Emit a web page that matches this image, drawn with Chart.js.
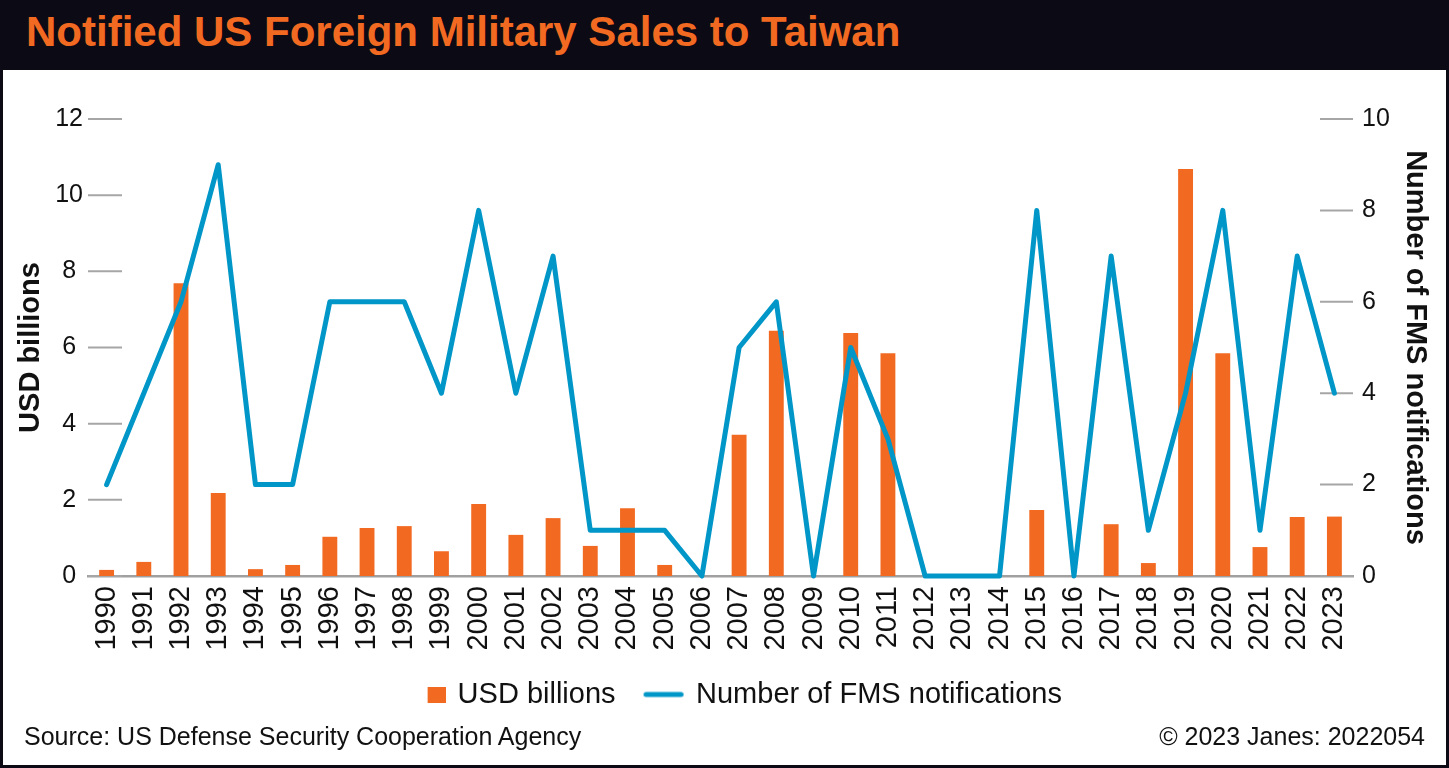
<!DOCTYPE html>
<html>
<head>
<meta charset="utf-8">
<script src="https://cdn.jsdelivr.net/npm/chart.js@4.4.1/dist/chart.umd.min.js"></script>
<style>
  html, body { margin: 0; padding: 0; background: #ffffff; }
  #frame {
    position: absolute; left: 0; top: 0; width: 1449px; height: 768px;
    background: #ffffff; overflow: hidden;
    font-family: "Liberation Sans", Arial, sans-serif;
  }
  #border {
    position: absolute; left: 0; top: 0; width: 1449px; height: 768px;
    box-sizing: border-box; border: 3px solid #0c0a14; border-top: none;
    pointer-events: none;
  }
  #head {
    position: absolute; left: 0; top: 0; width: 1449px; height: 70px;
    background: #0c0a14;
  }
  #title {
    position: absolute; left: 26px; top: 11px; margin: 0;
    font-size: 42px; line-height: 42px; font-weight: bold; color: #f26a22;
    white-space: nowrap;
  }
  #chart { position: absolute; left: 0; top: 70px; }
  .foot {
    position: absolute; top: 724px; font-size: 25px; line-height: 25px;
    color: #111111; white-space: nowrap;
  }
  #source { left: 24px; }
  #credit { right: 24px; }
</style>
</head>
<body>
<div id="frame">
  <div id="head"><h1 id="title">Notified US Foreign Military Sales to Taiwan</h1></div>
  <canvas id="chart" width="1449" height="653"></canvas>
  <div class="foot" id="source">Source: US Defense Security Cooperation Agency</div>
  <div class="foot" id="credit">© 2023 Janes: 2022054</div>
  <div id="border"></div>
</div>
<script>
// Chart data
const years = ['1990', '1991', '1992', '1993', '1994', '1995', '1996', '1997', '1998', '1999',
  '2000', '2001', '2002', '2003', '2004', '2005', '2006', '2007', '2008', '2009',
  '2010', '2011', '2012', '2013', '2014', '2015', '2016', '2017', '2018', '2019',
  '2020', '2021', '2022', '2023'];
const usdBillions = [0.16, 0.37, 7.69, 2.18, 0.18, 0.29, 1.03, 1.26, 1.31, 0.65,
  1.89, 1.08, 1.52, 0.79, 1.78, 0.29, 0, 3.71, 6.44, 0,
  6.38, 5.85, 0, 0, 0, 1.73, 0, 1.36, 0.34, 10.69,
  5.85, 0.76, 1.55, 1.56];
const fmsNotifications = [2, 4, 6, 9, 2, 2, 6, 6, 6, 4,
  8, 4, 7, 1, 1, 1, 0, 5, 6, 0,
  5, 3, 0, 0, 0, 8, 0, 7, 1, 4,
  8, 1, 7, 4];
const leftTicks = [0, 2, 4, 6, 8, 10, 12];
const rightTicks = [0, 2, 4, 6, 8, 10];

const ORANGE = '#f26a22';
const BLUE = '#0097c8';
const FONT = '"Liberation Sans", Arial, sans-serif';

// Legend symbols
function legendSymbol(w, draw) {
  const c = document.createElement('canvas');
  c.width = w;
  c.height = 16;
  draw(c.getContext('2d'));
  return c;
}
const barSymbol = legendSymbol(41, ctx => {
  ctx.fillStyle = ORANGE;
  ctx.fillRect(23, 0, 18, 16);
});
const lineSymbol = legendSymbol(44, ctx => {
  ctx.strokeStyle = BLUE;
  ctx.lineWidth = 5;
  ctx.lineCap = 'round';
  ctx.beginPath();
  ctx.moveTo(4.5, 8);
  ctx.lineTo(39.5, 8);
  ctx.stroke();
});

// Short tick marks drawn just inside the plot area
const tickMarks = {
  id: 'tickMarks',
  afterLayout(chart) {
    // legend sits a little right of centre in the original
    chart.legend.left += 10;
    chart.legend.right += 10;
  },
  beforeDatasetsDraw(chart) {
    const { ctx, chartArea } = chart;
    ctx.save();
    ctx.strokeStyle = '#a6a6a6';
    ctx.lineWidth = 2;
    leftTicks.forEach(v => {
      const py = chart.scales.y.getPixelForValue(v);
      ctx.beginPath();
      ctx.moveTo(chartArea.left, py);
      ctx.lineTo(chartArea.left + 34, py);
      ctx.stroke();
    });
    rightTicks.forEach(v => {
      const py = chart.scales.y1.getPixelForValue(v);
      ctx.beginPath();
      ctx.moveTo(chartArea.right - 33, py);
      ctx.lineTo(chartArea.right, py);
      ctx.stroke();
    });
    ctx.restore();
  }
};

const ctx = document.getElementById('chart').getContext('2d');
new Chart(ctx, {
  type: 'bar',
  data: {
    labels: years,
    datasets: [{
      label: 'USD billions',
      data: usdBillions,
      backgroundColor: ORANGE,
      barPercentage: 0.4,
      categoryPercentage: 1.0,
      pointStyle: barSymbol,
      yAxisID: 'y',
      order: 2
    }, {
      type: 'line',
      label: 'Number of FMS notifications',
      data: fmsNotifications,
      borderColor: BLUE,
      backgroundColor: BLUE,
      borderWidth: 5,
      borderJoinStyle: 'round',
      borderCapStyle: 'round',
      tension: 0,
      pointRadius: 0,
      pointStyle: lineSymbol,
      clip: false,
      yAxisID: 'y1',
      order: 1
    }]
  },
  options: {
    responsive: false,
    animation: false,
    layout: {
      padding: { top: 49, left: 3, right: 3, bottom: 4 }
    },
    plugins: {
      tooltip: { enabled: false },
      legend: {
        position: 'bottom',
        labels: {
          usePointStyle: true,
          pointStyleWidth: 36,
          padding: 30,
          color: '#111111',
          font: { family: FONT, size: 29 },
          sort: (a, b) => a.datasetIndex - b.datasetIndex
        }
      }
    },
    scales: {
      x: {
        offset: true,
        grid: { display: false, drawTicks: false },
        border: { display: true, color: '#a0a0a0', width: 2.5 },
        ticks: {
          autoSkip: false,
          maxRotation: 90,
          minRotation: 90,
          padding: 10,
          color: '#111111',
          font: { family: FONT, size: 29 }
        },
        afterFit: scale => { scale.height = 74; }
      },
      y: {
        position: 'left',
        min: 0,
        max: 12,
        grid: { display: false, drawTicks: false },
        border: { display: false },
        ticks: {
          stepSize: 2,
          crossAlign: 'center',
          padding: 5,
          color: '#111111',
          font: { family: FONT, size: 25 }
        },
        title: {
          display: true,
          text: 'USD billions',
          color: '#111111',
          padding: { top: 11, bottom: 0 },
          font: { family: FONT, size: 29, weight: 'bold' }
        },
        afterFit: scale => { scale.width = 85; }
      },
      y1: {
        position: 'right',
        min: 0,
        max: 10,
        grid: { display: false, drawTicks: false },
        border: { display: false },
        ticks: {
          stepSize: 2,
          padding: 9,
          color: '#111111',
          font: { family: FONT, size: 25 }
        },
        title: {
          display: true,
          text: 'Number of FMS notifications',
          color: '#111111',
          padding: { top: 14, bottom: 0 },
          font: { family: FONT, size: 29, weight: 'bold' }
        },
        afterFit: scale => { scale.width = 93; }
      }
    }
  },
  plugins: [tickMarks]
});
</script>
</body>
</html>
